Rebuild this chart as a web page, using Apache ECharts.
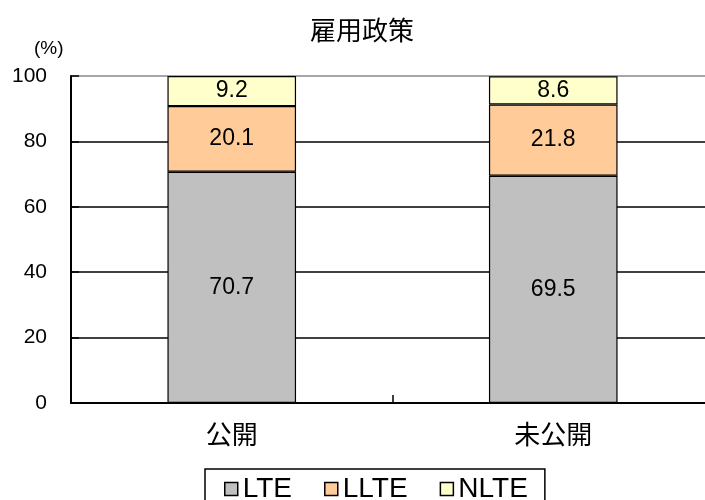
<!DOCTYPE html>
<html>
<head>
<meta charset="utf-8">
<script src="https://cdn.jsdelivr.net/npm/echarts@6/dist/echarts.min.js"></script>
<style>
html,body{margin:0;padding:0;background:#fff;overflow:hidden;}
#chart{width:705px;height:500px;}
</style>
</head>
<body>
<div id="chart"></div>
<script>
var categories = ['公開', '未公開'];
var seriesNames = ['LTE', 'LLTE', 'NLTE'];
var lteValues = [70.7, 69.5];
var llteValues = [20.1, 21.8];
var nlteValues = [9.2, 8.6];
var yTicks = [0, 20, 40, 60, 80, 100];

var FONT = '"Liberation Sans", Arial, "Noto Sans CJK JP", sans-serif';
var colors = ['#C0C0C0', '#FFCC99', '#FFFFCC'];
var allValues = [lteValues, llteValues, nlteValues];

var chart = echarts.init(document.getElementById('chart'), null, {renderer: 'canvas'});

var series = seriesNames.map(function (name, i) {
  return {
    name: name,
    type: 'bar',
    stack: 'total',
    barWidth: '40%',
    data: allValues[i],
    itemStyle: {color: colors[i], borderColor: '#000', borderWidth: 1.2},
    label: {
      show: true,
      position: 'inside',
      color: '#000',
      fontFamily: FONT,
      fontSize: 23,
      formatter: function (p) { return p.value.toFixed(1); }
    },
    emphasis: {disabled: true}
  };
});

chart.setOption({
  animation: false,
  backgroundColor: '#fff',
  title: {
    text: '雇用政策',
    left: 305,
    top: 12,
    textStyle: {fontFamily: '"Noto Sans CJK JP", sans-serif', fontSize: 26, fontWeight: 'normal', color: '#000'}
  },
  graphic: [{
    type: 'text',
    left: 34,
    top: 39,
    style: {text: '(%)', font: '19px ' + FONT, fill: '#000'}
  }],
  legend: {
    data: seriesNames,
    left: 205,
    top: 469,
    icon: 'rect',
    itemWidth: 13,
    itemHeight: 13,
    itemGap: 32,
    borderColor: '#000',
    borderWidth: 1.5,
    padding: [6, 17, 6, 19],
    itemStyle: {borderColor: '#000', borderWidth: 1.5},
    textStyle: {fontFamily: FONT, fontSize: 28, color: '#000'}
  },
  grid: {left: 71, width: 643, top: 76, height: 327, containLabel: false, outerBoundsMode: 'none'},
  xAxis: {
    type: 'category',
    data: categories,
    axisLine: {lineStyle: {color: '#000', width: 2}},
    axisTick: {show: true, inside: true, length: 8, lineStyle: {color: '#000', width: 1.5}},
    axisLabel: {color: '#000', fontFamily: '"Noto Sans CJK JP", sans-serif', fontSize: 26, margin: 18},
    splitLine: {show: false}
  },
  yAxis: {
    type: 'value',
    min: yTicks[0],
    max: yTicks[yTicks.length - 1],
    interval: yTicks[1] - yTicks[0],
    axisLine: {show: true, lineStyle: {color: '#000', width: 2}},
    axisTick: {show: true, inside: true, length: 8, lineStyle: {color: '#000', width: 1.5}},
    axisLabel: {color: '#000', fontFamily: FONT, fontSize: 21, margin: 24},
    splitLine: {show: true, lineStyle: {color: ['#000', '#000', '#000', '#000', '#000', '#888'], width: 1.5}}
  },
  series: series
});
</script>
</body>
</html>
